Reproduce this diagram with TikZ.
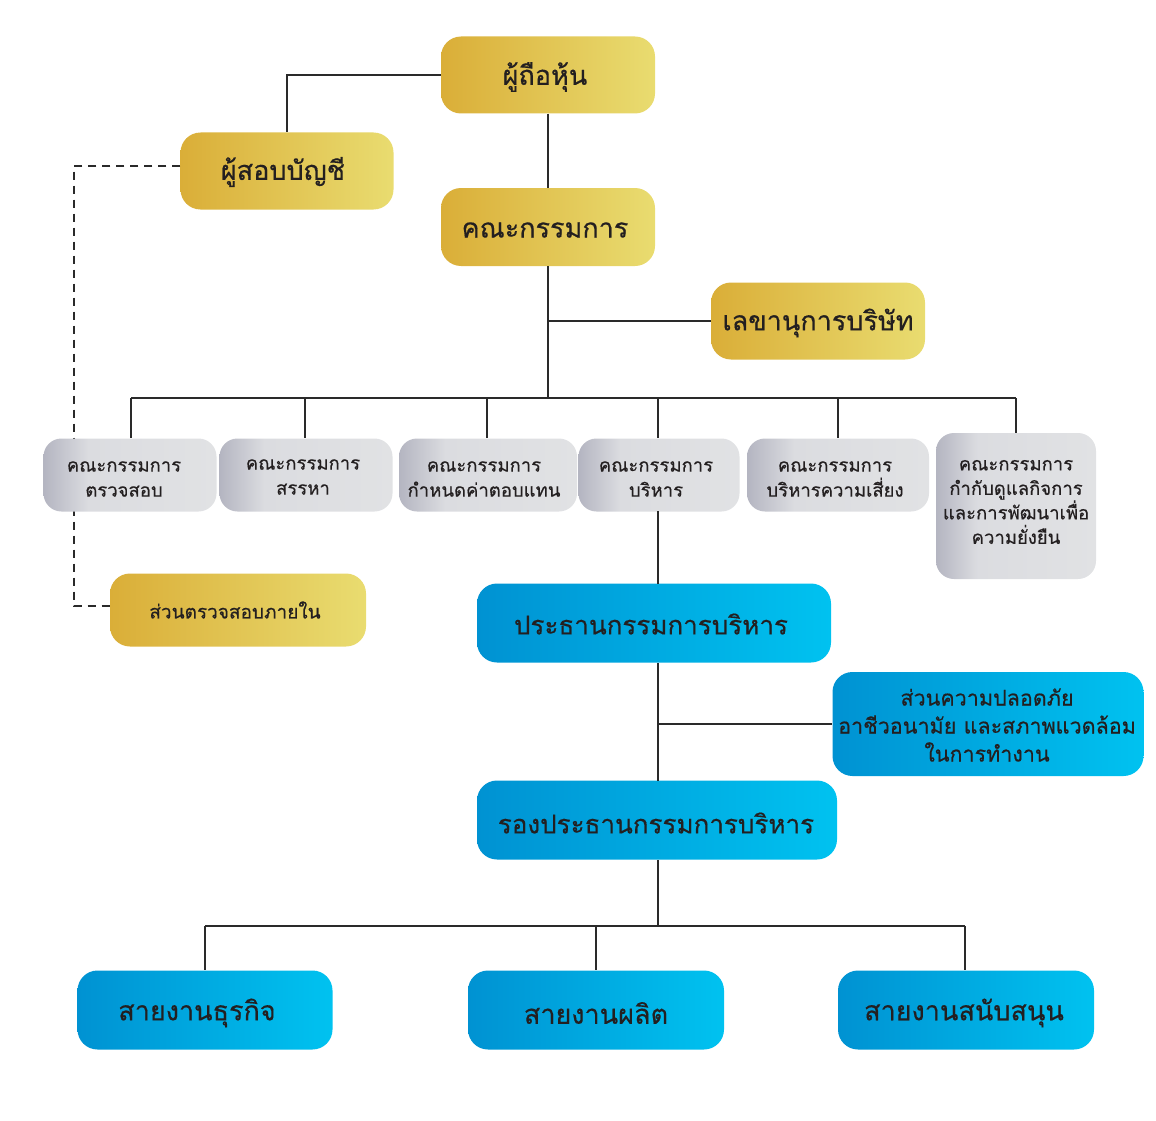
\documentclass[tikz,border=0pt]{standalone}
\usepackage{fontspec}
\newfontfamily\thai[Script=Thai,FakeBold=0.45]{Loma}
\definecolor{goldL}{HTML}{DAAE38}
\definecolor{goldR}{HTML}{E9DC70}
\definecolor{grayL}{HTML}{B4B5C1}
\definecolor{grayM}{HTML}{DBDCE0}
\definecolor{grayR}{HTML}{E1E2E4}
\definecolor{blueL}{HTML}{0092D2}
\definecolor{blueR}{HTML}{00C2F0}
\definecolor{txt}{HTML}{231F20}
\definecolor{ln}{HTML}{2A2A2A}
\pgfdeclarehorizontalshading{grayshade}{100bp}{color(0bp)=(grayL); color(25bp)=(grayL); color(38bp)=(grayM); color(75bp)=(grayR); color(100bp)=(grayR)}
\tikzset{
  gold/.style={rounded corners=20pt, left color=goldL, right color=goldR, draw=none, inner sep=0pt},
  graybox/.style={rounded corners=18pt, shading=grayshade, draw=none, inner sep=0pt},
  bluebox/.style={rounded corners=20pt, left color=blueL, right color=blueR, draw=none, inner sep=0pt},
  lbl/.style={inner sep=0pt, align=center, text=txt},
  big/.style={lbl, font=\thai\fontsize{27}{30}\selectfont},
  mid/.style={lbl, font=\thai\fontsize{18.5}{25}\selectfont},
  conn/.style={draw=ln, line width=1.7pt},
  dconn/.style={draw=ln, line width=1.7pt, dash pattern=on 8pt off 6pt},
}
\begin{document}
\begin{tikzpicture}[x=1pt,y=-1pt]
\useasboundingbox (0,0) rectangle (1156,1121);
% dashed connector (behind boxes)
\coordinate (dA) at (74,166);
\coordinate (dB) at (74,606);
% gold boxes
\node[gold, minimum width=214pt, minimum height=77pt] (sh) at (548,75) {};
\node[gold, minimum width=213pt, minimum height=77pt] (aud) at (287,171) {};
\node[gold, minimum width=214pt, minimum height=78pt] (bod) at (548,227) {};
\node[gold, minimum width=214pt, minimum height=77pt] (sec) at (818,321) {};
\node[gold, minimum width=256pt, minimum height=73pt] (ia) at (238,610) {};
\draw[dconn] (aud.west |- dA) -- (dA) -- (dB) -- (ia.west |- dB);
% gray boxes
\node[graybox, minimum width=173pt, minimum height=73pt] (c1) at (130,475) {};
\node[graybox, minimum width=173pt, minimum height=73pt] (c2) at (306,475) {};
\node[graybox, minimum width=178pt, minimum height=73pt] (c3) at (488,475) {};
\node[graybox, minimum width=161pt, minimum height=73pt] (c4) at (659,475) {};
\node[graybox, minimum width=182pt, minimum height=73pt] (c5) at (838,475) {};
\node[graybox, minimum width=160pt, minimum height=146pt] (c6) at (1016,506) {};
% blue boxes
\node[bluebox, minimum width=354pt, minimum height=79pt] (ceo) at (654,623) {};
\node[bluebox, minimum width=311pt, minimum height=104pt] (saf) at (988,724) {};
\node[bluebox, minimum width=360pt, minimum height=79pt] (vp) at (657,820) {};
\node[bluebox, minimum width=255pt, minimum height=79pt] (b1) at (205,1010) {};
\node[bluebox, minimum width=256pt, minimum height=79pt] (b2) at (596,1010) {};
\node[bluebox, minimum width=256pt, minimum height=79pt] (b3) at (966,1010) {};
% labels
\node[big] (shT) at ([yshift=-2pt,xshift=-3pt]sh.center) {ผู้ถือหุ้น};
\node[big] (audT) at ([yshift=-1pt,xshift=-4pt]aud.center) {ผู้สอบบัญชี};
\node[big] (bodT) at ([yshift=-3pt,xshift=-3pt]bod.center) {คณะกรรมการ};
\node[big] (secT) at ([yshift=-2pt]sec.center) {เลขานุการบริษัท};
\node[lbl, font=\thai\fontsize{19}{22}\selectfont] (iaT) at ([xshift=-3pt]ia.center) {ส่วนตรวจสอบภายใน};
\node[mid] (c1T) at ([yshift=-4pt,xshift=-6pt]c1.center) {คณะกรรมการ\\ตรวจสอบ};
\node[mid] (c2T) at ([yshift=-2pt,xshift=-3pt]c2.center) {คณะกรรมการ\\สรรหา};
\node[mid] (c3T) at ([yshift=-4pt,xshift=-4pt]c3.center) {คณะกรรมการ\\กำหนดค่าตอบแทน};
\node[mid] (c4T) at ([yshift=-4pt,xshift=-3pt]c4.center) {คณะกรรมการ\\บริหาร};
\node[mid] (c5T) at ([yshift=-4pt,xshift=-3pt]c5.center) {คณะกรรมการ\\บริหารความเสี่ยง};
\node[mid, font=\thai\fontsize{18.5}{24.5}\selectfont] (c6T) at ([yshift=4pt]c6.center) {คณะกรรมการ\\กำกับดูแลกิจการ\\และการพัฒนาเพื่อ\\ความยั่งยืน};
\node[lbl, font=\thai\fontsize{26}{30}\selectfont] (ceoT) at ([yshift=-1pt,xshift=-3pt]ceo.center) {ประธานกรรมการบริหาร};
\node[lbl, font=\thai\fontsize{21.5}{28}\selectfont] (safT) at ([yshift=-1pt,xshift=-1pt]saf.center) {ส่วนความปลอดภัย\\อาชีวอนามัย และสภาพแวดล้อม\\ในการทำงาน};
\node[lbl, font=\thai\fontsize{26}{30}\selectfont] (vpT) at ([yshift=-3pt,xshift=-1pt]vp.center) {รองประธานกรรมการบริหาร};
\node[big] (b1T) at ([yshift=-3pt,xshift=-8pt]b1.center) {สายงานธุรกิจ};
\node[big] (b2T) at ([yshift=-3pt]b2.center) {สายงานผลิต};
\node[big] (b3T) at ([yshift=-3pt,xshift=-2pt]b3.center) {สายงานสนับสนุน};
% coordinates
\coordinate (bus) at (548,398);
\coordinate (busL) at (131,398);
\coordinate (busR) at (1016,398);
\coordinate (secj) at (548,321);
\coordinate (ceoj) at (658,724);
\coordinate (bus2) at (658,926);
\coordinate (bus2L) at (205,926);
\coordinate (bus2M) at (596,926);
\coordinate (bus2R) at (965,926);
% connectors
\draw[conn] (sh.west) -| (aud.north);
\draw[conn] (sh.south) -- (bod.north);
\draw[conn] (bod.south) -- (bus);
\draw[conn] (secj) -- (sec.west);
\draw[conn] (busL) -- (busR);
\draw[conn] (busL) -- (busL |- c1.north);
\draw[conn] (305,398) -- (305,438);
\draw[conn] (487,398) -- (487,438);
\draw[conn] (658,398) -- (658,438);
\draw[conn] (838,398) -- (838,438);
\draw[conn] (busR) -- (c6.north);
\draw[conn] (658,511) -- (658,584);
\draw[conn] (658,663) -- (658,781);
\draw[conn] (ceoj) -- (saf.west);
\draw[conn] (658,860) -- (bus2);
\draw[conn] (bus2L) -- (bus2R);
\draw[conn] (bus2L) -- (b1.north);
\draw[conn] (bus2M) -- (b2.north);
\draw[conn] (bus2R) -- (bus2R |- b3.north);
\end{tikzpicture}
\end{document}
